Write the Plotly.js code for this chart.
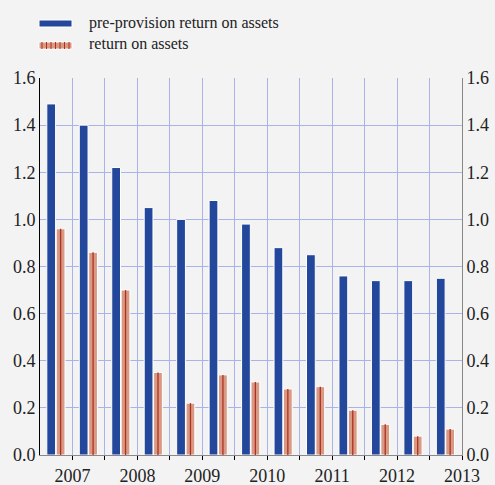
<!DOCTYPE html>
<html><head><meta charset="utf-8">
<script src="https://cdn.plot.ly/plotly-3.0.1.min.js"></script>
<style>html,body{margin:0;padding:0;background:#f3f3f3;}</style>
</head><body><div id="chart" style="width:495px;height:485px;"></div>
<script>
const periods = ["2007 H1","2007 H2","2008 H1","2008 H2","2009 H1","2009 H2","2010 H1","2010 H2","2011 H1","2011 H2","2012 H1","2012 H2","2013 H1"];
const preProvisionROA = [1.49,1.40,1.22,1.05,1.00,1.08,0.98,0.88,0.85,0.76,0.74,0.74,0.75];
const returnOnAssets = [0.96,0.86,0.70,0.35,0.22,0.34,0.31,0.28,0.29,0.19,0.13,0.08,0.11];
const seriesNames = ["pre-provision return on assets","return on assets"];
const yearLabels = ["2007","2008","2009","2010","2011","2012","2013"];
const yTicks = [0,0.2,0.4,0.6,0.8,1.0,1.2,1.4,1.6];

const FAM = "Liberation Serif";
const xIdx = periods.map((p,i)=>i);
const tickvals = periods.map((p,i)=>i+0.5);
const ticktext = tickvals.map((v,i)=> i%2===0 ? yearLabels[i/2] : "");
const font = {family:FAM, size:18, color:"#222"};
const BLUE = "#23479a", SALMON = "#d89a85", DARKRED = "#b0301f";

const traces = [
 {type:"bar", x:xIdx, y:preProvisionROA, name:seriesNames[0],
  width:0.27, offset:-0.29,
  marker:{color:BLUE, line:{color:"#ffffff", width:1}}},
 {type:"bar", x:xIdx, y:returnOnAssets, name:seriesNames[1],
  width:0.27, offset:0.0,
  marker:{color:SALMON, line:{color:"#ffffff", width:1}}},
 {type:"bar", x:xIdx, y:returnOnAssets, name:seriesNames[1]+" stripe", showlegend:false,
  width:0.04, offset:0.115,
  marker:{color:DARKRED, line:{width:0}}},
 {type:"scatter", x:[0], y:[0], yaxis:"y2", mode:"markers", marker:{opacity:0}, showlegend:false, hoverinfo:"skip"}
];

const L = 40, T = 78, PW = 422, PH = 377;
const px = x => (x - L) / PW;
const py = y => (T + PH - y) / PH;
const shapes = [
 {type:"rect", xref:"paper", yref:"paper", x0:px(39), x1:px(72), y0:py(27), y1:py(20), fillcolor:BLUE, line:{color:"#ffffff", width:1}},
 {type:"rect", xref:"paper", yref:"paper", x0:px(39), x1:px(72), y0:py(49), y1:py(42), fillcolor:SALMON, line:{color:"#ffffff", width:1}}
];
for (let k = 0; k < 7; k++) {
  const xx = 42 + k*4.5;
  shapes.push({type:"line", xref:"paper", yref:"paper", x0:px(xx), x1:px(xx), y0:py(49), y1:py(42), line:{color:DARKRED, width:1}});
}
const annotations = [
 {xref:"paper", yref:"paper", x:px(87), y:py(23), xanchor:"left", yanchor:"middle", text:seriesNames[0], showarrow:false, font:{family:FAM, size:16, color:"#222"}},
 {xref:"paper", yref:"paper", x:px(87), y:py(44), xanchor:"left", yanchor:"middle", text:seriesNames[1], showarrow:false, font:{family:FAM, size:16, color:"#222"}}
];

const layout = {
 width:495, height:485,
 paper_bgcolor:"#f3f3f3", plot_bgcolor:"#f3f3f3",
 margin:{l:L, r:33, t:T, b:30},
 barmode:"overlay",
 font:font,
 showlegend:false,
 shapes:shapes, annotations:annotations,
 xaxis:{range:[-0.5,12.5], tickvals:tickvals, ticktext:ticktext, showgrid:true,
   gridcolor:"#aab2ea", gridwidth:1, zeroline:false, showline:true, linecolor:"#888",
   ticks:"outside", ticklen:4, tickcolor:"#000", tickfont:font},
 yaxis:{range:[0,1.6], tickvals:yTicks, tickformat:".1f", showgrid:true, gridcolor:"#aab2ea",
   zeroline:false, showline:true, linecolor:"#000", linewidth:1, ticks:"", tickfont:font},
 yaxis2:{range:[0,1.6], tickvals:yTicks, tickformat:".1f", overlaying:"y", side:"right",
   showgrid:false, zeroline:false, showline:true, linecolor:"#888", ticks:"", tickfont:font}
};
Plotly.newPlot("chart", traces, layout, {displayModeBar:false, staticPlot:true});
</script></body></html>
